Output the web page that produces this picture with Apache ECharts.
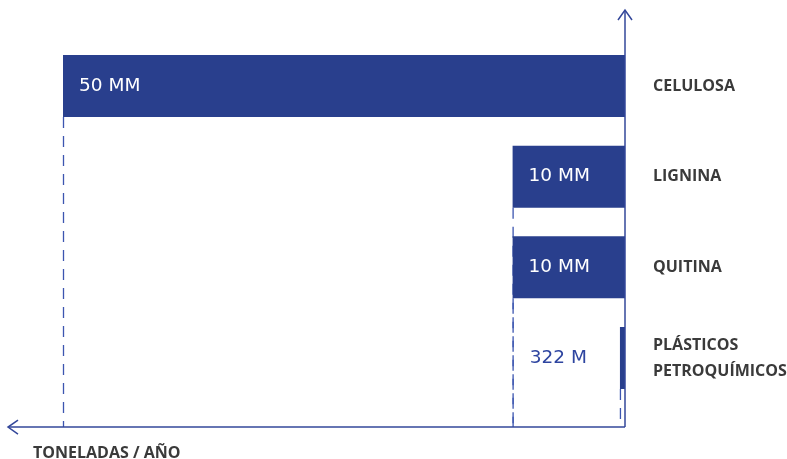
<!DOCTYPE html>
<html><head><meta charset="utf-8">
<script src="https://cdn.jsdelivr.net/npm/echarts@6/dist/echarts.min.js"></script>
<style>html,body{margin:0;padding:0;background:#fff}#c{width:787px;height:459px}</style>
</head><body><div id="c"></div>
<script>
const categories = ['CELULOSA', 'LIGNINA', 'QUITINA', 'PLÁSTICOS\nPETROQUÍMICOS'];
const values = [50, 10, 10, 0.45]; // millones de toneladas / año
const valueLabels = ['50 MM', '10 MM', '10 MM', '322 M'];
const axisTitle = 'TONELADAS / AÑO';

const BLUE = '#293f8d';
const AXIS = '#33479a';
const GRAY = '#3a3a3a';
const AXIS_OFFSET = 23.7;

const chart = echarts.init(document.getElementById('c'));

const barData = values.map((v, i) => {
  const small = v < 1;
  return {
    value: v,
    label: small
      ? { position: 'left', distance: 33, color: '#2e45a0' }
      : { position: 'insideLeft', distance: 16, color: '#ffffff' }
  };
});

chart.setOption({
  animation: false,
  grid: { left: 63, right: 162, top: 40.67, bottom: 55.67, containLabel: false, outerBoundsMode: 'none' },
  title: {
    text: axisTitle, left: 28, top: 440,
    textStyle: { fontFamily: 'Open Sans', fontWeight: 'bold', fontSize: 16, color: GRAY }
  },
  xAxis: {
    type: 'value', inverse: true, min: 0, max: 50,
    axisLine: { show: false }, axisTick: { show: false },
    axisLabel: { show: false }, splitLine: { show: false }
  },
  yAxis: {
    type: 'category', data: categories, inverse: true, position: 'right',
    axisLine: { show: false }, axisTick: { show: false },
    axisLabel: {
      margin: 28, align: 'left', color: GRAY, verticalAlign: 'middle', padding: [0, 0, 7, 0],
      fontFamily: 'Open Sans', fontWeight: 'bold', fontSize: 16, lineHeight: 26
    }
  },
  series: [
    {
      type: 'custom', z: 1, silent: true,
      data: values.map((v, i) => [v, i]),
      renderItem: function (params, api) {
        const p = api.coord([api.value(0), api.value(1)]);
        const half = 31;
        const cs = params.coordSys;
        return {
          type: 'line',
          shape: { x1: p[0] + 0.5, y1: p[1] + half, x2: p[0] + 0.5, y2: cs.y + cs.height + AXIS_OFFSET },
          style: { stroke: '#3c55b0', lineWidth: 1.3, lineDash: [11, 8] }
        };
      }
    },
    {
      type: 'bar', z: 2, barWidth: 62,
      data: barData,
      itemStyle: { color: BLUE },
      label: {
        show: true,
        fontFamily: 'DejaVu Sans', fontSize: 18.5,
        formatter: p => valueLabels[p.dataIndex]
      }
    }
  ]
});

// Axis arrows, anchored to the chart's origin (value 0 on the x axis, bottom of grid + offset)
const grid = chart.getModel().getComponent('grid').coordinateSystem.getRect();
const ox = chart.convertToPixel({ xAxisIndex: 0 }, 0);
const oy = grid.y + grid.height + AXIS_OFFSET;
const topY = 10, leftX = 8, ah = 7;
chart.setOption({
  graphic: [
    { type: 'polyline', z: 10, shape: { points: [[ox, oy], [ox, topY]] }, style: { stroke: AXIS, lineWidth: 1.5, fill: null } },
    { type: 'polyline', z: 10, shape: { points: [[ox - ah, topY + 10], [ox, topY], [ox + ah, topY + 10]] }, style: { stroke: AXIS, lineWidth: 1.5, fill: null } },
    { type: 'polyline', z: 10, shape: { points: [[ox, oy], [leftX, oy]] }, style: { stroke: AXIS, lineWidth: 1.5, fill: null } },
    { type: 'polyline', z: 10, shape: { points: [[leftX + 10, oy - ah], [leftX, oy], [leftX + 10, oy + ah]] }, style: { stroke: AXIS, lineWidth: 1.5, fill: null } }
  ]
});
</script></body></html>
